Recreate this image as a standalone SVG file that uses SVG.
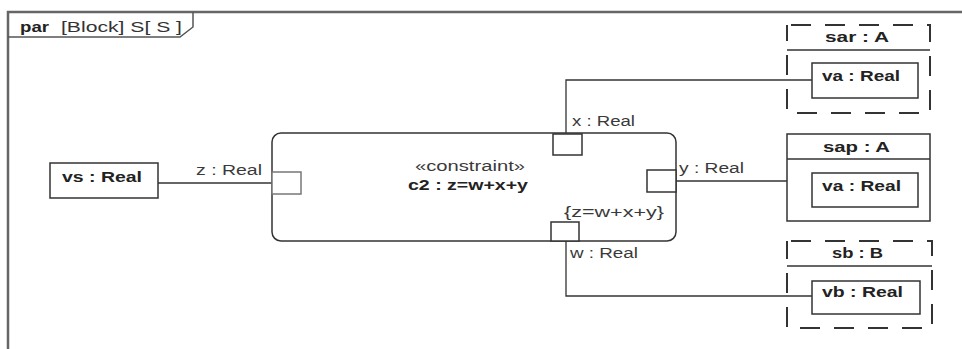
<svg xmlns="http://www.w3.org/2000/svg" width="962" height="349" viewBox="0 0 962 349">
<style>
.lbl{font-family:"Liberation Sans",Arial,sans-serif;font-size:14px;fill:#3a3a3a}
.nm{font-family:"Liberation Sans",Arial,sans-serif;font-size:15px;font-weight:bold;fill:#222}
.box{fill:#fff;stroke:#333;stroke-width:1.5}
.dash{fill:none;stroke:#333;stroke-width:2;stroke-dasharray:20 14;stroke-dashoffset:-4}
.sep{stroke:#333;stroke-width:1.5}
.con{fill:none;stroke:#333;stroke-width:1.3}
.port{fill:#fff;stroke:#333;stroke-width:1.5}
</style>
<rect width="962" height="349" fill="#fff"/>
<g id="frame">
<path d="M8,349 V12 H962" fill="none" stroke="#666" stroke-width="2.5"/>
<path d="M8,37 H180 L193,27 V12" fill="none" stroke="#555" stroke-width="1.5"/>
<text x="20" y="32" class="nm" style="font-size:14px" textLength="29" lengthAdjust="spacingAndGlyphs">par</text>
<text x="61" y="32" class="lbl" style="font-size:15px;fill:#333" textLength="121" lengthAdjust="spacingAndGlyphs">[Block] S[ S ]</text>
</g>
<g id="connectors">
<path class="con" d="M158,183 H272"/>
<path class="con" d="M566,134 V80 H812"/>
<path class="con" d="M676,181 H812"/>
<path class="con" d="M566,241 V296 H812"/>
<text x="196" y="175" class="lbl" textLength="66" lengthAdjust="spacingAndGlyphs">z : Real</text>
<text x="572" y="126" class="lbl" textLength="63" lengthAdjust="spacingAndGlyphs">x : Real</text>
<text x="679" y="173" class="lbl" textLength="65" lengthAdjust="spacingAndGlyphs">y : Real</text>
<text x="570" y="258" class="lbl" textLength="68" lengthAdjust="spacingAndGlyphs">w : Real</text>
</g>
<g id="vs">
<rect class="box" x="50" y="163" width="108" height="35"/>
<text x="62" y="182" class="nm" textLength="80" lengthAdjust="spacingAndGlyphs">vs : Real</text>
</g>
<g id="c2">
<rect class="box" x="272" y="133" width="404" height="108" rx="9" ry="9"/>
<text x="415" y="171" class="lbl" textLength="110" lengthAdjust="spacingAndGlyphs">«constraint»</text>
<text x="408" y="190" class="nm" textLength="120" lengthAdjust="spacingAndGlyphs">c2 : z=w+x+y</text>
<text x="564" y="217" class="lbl" textLength="100" lengthAdjust="spacingAndGlyphs">{z=w+x+y}</text>
<rect class="port" x="272" y="172" width="29" height="22" style="stroke:#777"/>
<rect class="port" x="553" y="134" width="29" height="21"/>
<rect class="port" x="647" y="170" width="29" height="22"/>
<rect class="port" x="551" y="222" width="28" height="19"/>
</g>
<g id="sar">
<rect class="dash" x="787" y="25" width="143" height="88"/>
<line class="sep" x1="787" y1="50" x2="930" y2="50"/>
<text x="825" y="42" class="nm" textLength="64" lengthAdjust="spacingAndGlyphs">sar : A</text>
<rect class="box" x="812" y="63" width="106" height="35"/>
<text x="822" y="81" class="nm" textLength="78" lengthAdjust="spacingAndGlyphs">va : Real</text>
</g>
<g id="sap">
<rect class="box" x="787" y="134" width="143" height="87"/>
<line class="sep" x1="787" y1="159" x2="930" y2="159"/>
<text x="823" y="152" class="nm" textLength="67" lengthAdjust="spacingAndGlyphs">sap : A</text>
<rect class="box" x="812" y="173" width="106" height="34"/>
<text x="822" y="191" class="nm" textLength="79" lengthAdjust="spacingAndGlyphs">va : Real</text>
</g>
<g id="sb">
<rect class="dash" x="787" y="241" width="145" height="87"/>
<line class="sep" x1="787" y1="266" x2="932" y2="266"/>
<text x="832" y="258" class="nm" textLength="51" lengthAdjust="spacingAndGlyphs">sb : B</text>
<rect class="box" x="812" y="281" width="108" height="33"/>
<text x="822" y="297" class="nm" textLength="81" lengthAdjust="spacingAndGlyphs">vb : Real</text>
</g>
</svg>
